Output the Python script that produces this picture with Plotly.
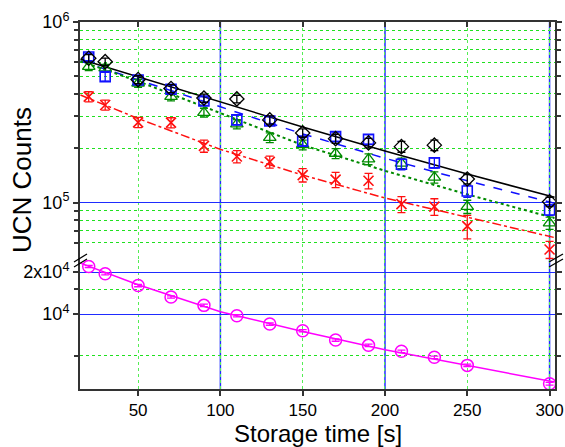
import plotly.graph_objects as go

# ---------------- data ----------------
t = [20, 30, 50, 70, 90, 110, 130, 150, 170, 190, 210, 230, 250, 300]

black = [630e3, 603e3, 480e3, 428e3, 379e3, 375e3, 287e3, 243e3, 226e3, 214e3, 204e3, 208e3, 135e3, 101e3]
black_err = [30e3, 28e3, 24e3, 22e3, 20e3, 18e3, 15e3, 13e3, 13e3, 13e3, 14e3, 14e3, 8e3, 6e3]

blue = [640e3, 498e3, 477e3, 424e3, 365e3, 287e3, 283e3, 219e3, 232e3, 224e3, 163e3, 166e3, 116e3, 91e3]
blue_err = [30e3, 28e3, 24e3, 22e3, 20e3, 18e3, 15e3, 13e3, 14e3, 14e3, 11e3, 11e3, 9e3, 6e3]

green = [566e3, 555e3, 458e3, 386e3, 315e3, 272e3, 229e3, 209e3, 187e3, 174e3, 165e3, 138e3, 95e3, 77e3]
green_err = [28e3, 27e3, 23e3, 20e3, 18e3, 16e3, 14e3, 13e3, 12e3, 12e3, 11e3, 10e3, 8e3, 6e3]

red = [386e3, 347e3, 278e3, 277e3, 206e3, 180e3, 168e3, 142e3, 134e3, 132e3, 98e3, 95e3, 74e3, 55e3]
red_err = [25e3, 22e3, 18e3, 18e3, 16e3, 14e3, 13e3, 12e3, 13e3, 13e3, 10e3, 10e3, 11e3, 6e3]

magenta = [21900, 19450, 16000, 13250, 11540, 9720, 8480, 7590, 6510, 5960, 5400, 4890, 4280, 3160]
magenta_err = [400, 350, 300, 250, 220, 190, 170, 150, 130, 120, 110, 100, 90, 70]

fit_t = [15, 50, 100, 150, 200, 250, 303]
black_fit = [622e3, 498e3, 360e3, 262e3, 193e3, 144e3, 107e3]
blue_fit = [608e3, 480e3, 339e3, 240e3, 176e3, 132e3, 99e3]
green_fit = [606e3, 470e3, 313e3, 208e3, 150e3, 111e3, 82e3]
red_fit = [394e3, 292e3, 197e3, 142e3, 106e3, 83e3, 64e3]
magenta_fit = [23200, 16200, 10400, 7500, 5550, 4260, 3250]

x_ticks = [50, 100, 150, 200, 250, 300]
x_major_lines = [100, 200, 300]
upper_major = [1e5, 1e6]
upper_major_text = ["10<sup>5</sup>", "10<sup>6</sup>"]
upper_minor = [6e4, 7e4, 8e4, 9e4, 2e5, 3e5, 4e5, 5e5, 6e5, 7e5, 8e5, 9e5]
lower_major = [1e4, 2e4]
lower_major_text = ["10<sup>4</sup>", "2x10<sup>4</sup>"]
lower_minor = [5e3, 1.5e4]

# ---------------- geometry ----------------
W, H = 565, 447
L, R, T, B = 80, 10, 22, 58
PW, PH = W - L - R, H - T - B
SPLIT = 0.352


def px(xs):  # pixel -> paper x
    return (xs - L) / PW


def py(ys):  # pixel -> paper y
    return (H - B - ys) / PH


GRID_GREEN = "#1fe01f"
GRID_GREEN_V = "#55ee55"
GRID_BLUE = "#1f2cff"
AX = "#333333"

fig = go.Figure()


def add_series(y, err, color, symbol, size, yaxis, lw=1.3):
    fig.add_trace(go.Scatter(
        x=t, y=y, mode="markers", xaxis="x" if yaxis == "y" else "x2", yaxis=yaxis,
        marker=dict(symbol=symbol, size=size, color=color,
                    line=dict(color=color, width=lw)),
        error_y=dict(type="data", array=err, color=color, thickness=1.3, width=4),
    ))


def add_fit(y, color, dash, yaxis, width=1.5):
    fig.add_trace(go.Scatter(
        x=fit_t, y=y, mode="lines", xaxis="x" if yaxis == "y" else "x2", yaxis=yaxis,
        line=dict(color=color, dash=dash, width=width),
    ))


add_fit(black_fit, "black", "solid", "y2")
add_fit(blue_fit, "#1010ff", "dash", "y2")
add_fit(green_fit, "#008a00", "dot", "y2", width=2)
add_fit(red_fit, "#ff1010", "dashdot", "y2")
add_fit(magenta_fit, "#ff00ff", "solid", "y")

add_series(red, red_err, "#ff1010", "x-thin", 10, "y2", lw=1.6)
add_series(green, green_err, "#008a00", "triangle-up-open", 11, "y2")
add_series(blue, blue_err, "#1010ff", "square-open", 10, "y2", lw=1.6)
add_series(black, black_err, "black", "diamond-open", 11, "y2")
add_series(magenta, magenta_err, "#ff00ff", "circle-open", 12, "y", lw=1.5)

font = dict(family="Liberation Sans, Arial, sans-serif", size=18, color="black")
xfont = dict(family="Liberation Sans, Arial, sans-serif", size=17, color="black")

common_y = dict(
    type="log", showline=True, linecolor=AX, linewidth=2, mirror="ticks",
    ticks="outside", ticklen=5, tickcolor=AX, tickwidth=1.5,
    showgrid=True, gridcolor=GRID_BLUE, gridwidth=1.3, zeroline=False,
    tickfont=font, automargin=False,
)

fig.update_layout(
    width=W, height=H,
    margin=dict(l=L, r=R, t=T, b=B, autoexpand=False),
    paper_bgcolor="white", plot_bgcolor="white",
    showlegend=False,
    font=font,
    xaxis=dict(
        range=[14.7, 303.3], anchor="y", tickvals=x_ticks, ticks="outside",
        ticklen=5, tickcolor=AX, tickwidth=1.5, showline=True, linecolor=AX,
        linewidth=2, showgrid=True, gridcolor=GRID_GREEN_V, griddash="dot",
        gridwidth=1, zeroline=False, tickfont=xfont, automargin=False,
    ),
    xaxis2=dict(
        matches="x", anchor="y2", side="top", tickvals=x_ticks, ticks="inside",
        ticklen=5, tickcolor=AX, tickwidth=1.5, showline=True, linecolor=AX,
        linewidth=2, showgrid=True, gridcolor=GRID_GREEN_V, griddash="dot",
        gridwidth=1, zeroline=False, showticklabels=False, automargin=False,
    ),
    yaxis=dict(
        common_y, domain=[0, SPLIT], range=[3.462, 4.389], anchor="x",
        tickvals=lower_major, ticktext=lower_major_text,
        minor=dict(tickvals=lower_minor, ticks="outside", ticklen=4, tickcolor=AX,
                   showgrid=True, gridcolor=GRID_GREEN, griddash="dot", gridwidth=1.2),
    ),
    yaxis2=dict(
        common_y, domain=[SPLIT, 1], range=[4.683, 6.0], anchor="x2",
        tickvals=upper_major, ticktext=upper_major_text,
        minor=dict(tickvals=upper_minor, ticks="outside", ticklen=4, tickcolor=AX,
                   showgrid=True, gridcolor=GRID_GREEN, griddash="dot", gridwidth=1.2),
    ),
)

shapes = []
for xv in x_major_lines:
    shapes.append(dict(type="line", xref="x", yref="paper", x0=xv, x1=xv, y0=0, y1=1,
                       line=dict(color=GRID_BLUE, width=1.5), layer="between"))

# axis-break marks "//" on left and right axes
for (x0, y0, x1, y1) in [(74, 262, 87, 254), (74, 267, 87, 259),
                         (549, 262, 563, 254), (549, 267, 563, 259)]:
    shapes.append(dict(type="line", xref="paper", yref="paper",
                       x0=px(x0), y0=py(y0), x1=px(x1), y1=py(y1),
                       line=dict(color="black", width=1.3), layer="above"))
fig.update_layout(shapes=shapes)

fig.add_annotation(text="UCN Counts", xref="paper", yref="paper",
                   x=px(22), y=py(180), textangle=-90, showarrow=False,
                   xanchor="center", yanchor="middle",
                   font=dict(family="Liberation Sans, Arial, sans-serif", size=26, color="black"))
fig.add_annotation(text="Storage time [s]", xref="paper", yref="paper",
                   x=px(318), y=py(433.5), showarrow=False,
                   xanchor="center", yanchor="middle", borderpad=0,
                   font=dict(family="Liberation Sans, Arial, sans-serif", size=24, color="black"))

fig.write_html(
    "out.html",
    config={"displayModeBar": False},
    post_script=(
        "document.documentElement.style.margin='0';"
        "document.body.style.margin='0';"
        "document.documentElement.style.overflow='hidden';"
        "document.body.style.overflow='hidden';"
    ),
)
